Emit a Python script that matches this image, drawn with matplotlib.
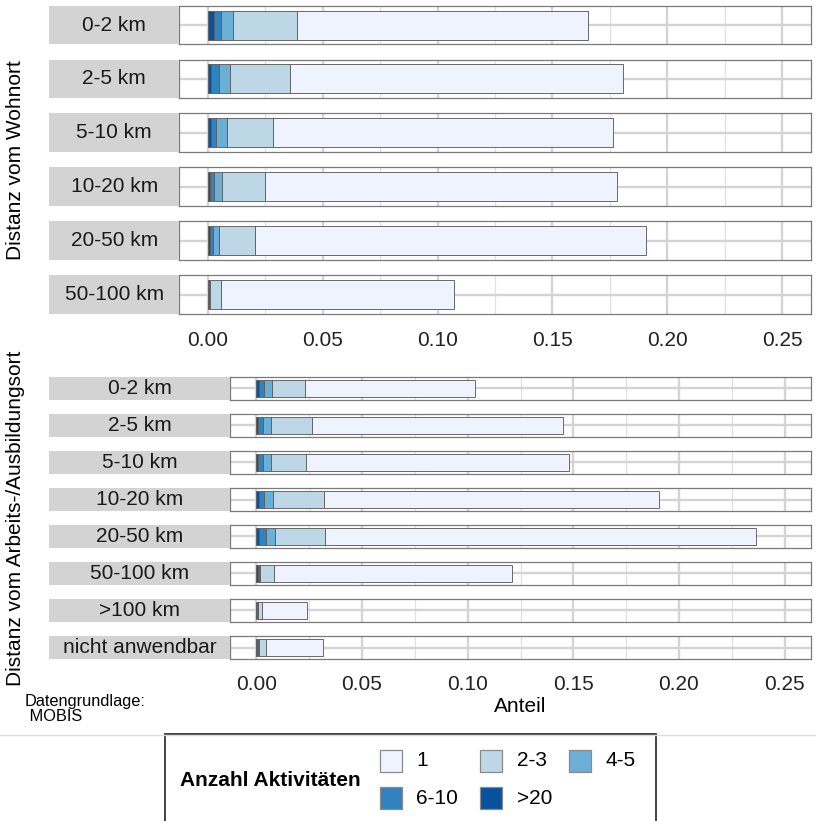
import matplotlib
matplotlib.use("Agg")
import matplotlib.pyplot as plt
from matplotlib.patches import Rectangle
from matplotlib.lines import Line2D
import numpy as np

plt.rcParams['font.family'] = ['Liberation Sans', 'DejaVu Sans']

# activity classes (legend order) and their fill colours
classes = ["1", "2-3", "4-5", "6-10", ">20"]
class_colors = ['#eff3ff', '#bdd7e7', '#6baed6', '#3182bd', '#08519c']

# distance from home
wohn_labels = ["0-2 km", "2-5 km", "5-10 km", "10-20 km", "20-50 km", "50-100 km"]
wohn_1 = [0.1267, 0.1451, 0.1477, 0.1531, 0.1703, 0.1014]
wohn_23 = [0.0279, 0.0257, 0.0204, 0.0187, 0.0158, 0.0046]
wohn_45 = [0.0050, 0.0050, 0.0046, 0.0037, 0.0024, 0.0003]
wohn_610 = [0.0032, 0.0036, 0.0020, 0.0017, 0.0015, 0.0003]
wohn_20 = [0.0026, 0.0013, 0.0016, 0.0010, 0.0009, 0.0004]

# distance from work / education place
arb_labels = ["0-2 km", "2-5 km", "5-10 km", "10-20 km", "20-50 km",
              "50-100 km", ">100 km", "nicht anwendbar"]
arb_1 = [0.0803, 0.1186, 0.1241, 0.1586, 0.2040, 0.1123, 0.0212, 0.0270]
arb_23 = [0.0160, 0.0192, 0.0170, 0.0241, 0.0236, 0.0066, 0.0017, 0.0035]
arb_45 = [0.0036, 0.0038, 0.0038, 0.0041, 0.0044, 0.0006, 0.0003, 0.0003]
arb_610 = [0.0024, 0.0025, 0.0021, 0.0024, 0.0030, 0.0005, 0.0002, 0.0002]
arb_20 = [0.0012, 0.0008, 0.0008, 0.0012, 0.0014, 0.0008, 0.0004, 0.0005]

x_ticks = [0.00, 0.05, 0.10, 0.15, 0.20, 0.25]

W, H = 816, 821
fig = plt.figure(figsize=(W / 100, H / 100), dpi=100)
FS = 15
edge = '#5e5e5e'


def box(x, y, w, h):
    # pixel box (top-left origin) -> figure fraction
    return [x / W, 1 - (y + h) / H, w / W, h / H]


def facet(label, series, x0, y0, h, strip_x, show_x):
    ax = fig.add_axes(box(x0, y0, 811 - x0, h))
    # stack from the left: largest class first, "1" last
    left = 0.0
    for vals, col in zip(series[::-1], class_colors[::-1]):
        ax.barh(1, vals, left=left, height=0.9, color=col,
                edgecolor=edge, linewidth=0.65, zorder=3)
        left += vals
    ax.set_xlim(-0.0125, 0.2625)
    ax.set_ylim(0.4, 1.6)
    ax.set_xticks(x_ticks)
    ax.set_xticks(np.arange(0.025, 0.26, 0.05), minor=True)
    ax.set_yticks([1])
    ax.set_yticklabels([])
    ax.grid(which='major', color='#d4d4d4', linewidth=1.7, zorder=0)
    ax.grid(which='minor', axis='x', color='#e0e0e0', linewidth=0.9, zorder=0)
    ax.tick_params(which='both', length=0)
    for s in ax.spines.values():
        s.set_color('#7a7a7a')
        s.set_linewidth(0.9)
    if show_x:
        ax.set_xticklabels([f"{t:.2f}" for t in x_ticks], fontsize=FS)
        ax.tick_params(axis='x', pad=12, labelcolor='#222222')
    else:
        ax.set_xticklabels([])
    # strip on the left
    sx = fig.add_axes(box(strip_x, y0, x0 - strip_x, h))
    sx.set_facecolor('#d3d3d3')
    sx.set_xticks([])
    sx.set_yticks([])
    for s in sx.spines.values():
        s.set_visible(False)
    sx.text(0.5, 0.5, label, ha='center', va='center', fontsize=FS,
            color='#1a1a1a', transform=sx.transAxes)
    return ax


for i, lab in enumerate(wohn_labels):
    vals = [wohn_1[i], wohn_23[i], wohn_45[i], wohn_610[i], wohn_20[i]]
    facet(lab, vals, 179, 5.7 + i * 53.9, 38.7, 49.3, i == len(wohn_labels) - 1)

for i, lab in enumerate(arb_labels):
    vals = [arb_1[i], arb_23[i], arb_45[i], arb_610[i], arb_20[i]]
    facet(lab, vals, 230, 377.3 + i * 37.0, 22.4, 49.3, i == len(arb_labels) - 1)

# axis titles
fig.text(16 / W, 1 - 160 / H, "Distanz vom Wohnort", rotation=90,
         ha='center', va='center', fontsize=FS)
fig.text(16 / W, 1 - 518 / H, "Distanz vom Arbeits-/Ausbildungsort", rotation=90,
         ha='center', va='center', fontsize=FS)
fig.text(520.5 / W, 1 - 706 / H, "Anteil", ha='center', va='center', fontsize=FS)
fig.text(25 / W, 1 - 694 / H, "Datengrundlage:\n MOBIS", ha='left', va='top',
         fontsize=11.8, linespacing=1.0)

# legend area
fig.add_artist(Line2D([0, 1], [1 - 735 / H] * 2, transform=fig.transFigure,
                      color='#dddddd', linewidth=1))
fig.add_artist(Rectangle((165 / W, 1 - 840 / H), 491 / W, 106 / H,
                         transform=fig.transFigure, facecolor='white',
                         edgecolor='#333333', linewidth=1.3))
fig.text(180 / W, 1 - 780 / H, "Anzahl Aktivitäten", ha='left', va='center',
         fontsize=FS, fontweight='bold')
key_pos = [(379.5, 749.5), (479.5, 749.5), (568.5, 749.5),
           (379.5, 787), (479.5, 787)]
for (kx, ky), lab, col in zip(key_pos, classes, class_colors):
    fig.add_artist(Rectangle((kx / W, 1 - (ky + 22) / H), 22 / W, 22 / H,
                             transform=fig.transFigure, facecolor=col,
                             edgecolor='#8a8a8a', linewidth=0.9))
    fig.text((kx + 37) / W, 1 - (ky + 11) / H, lab, ha='left', va='center',
             fontsize=FS)

fig.savefig("out.png", dpi=100)
